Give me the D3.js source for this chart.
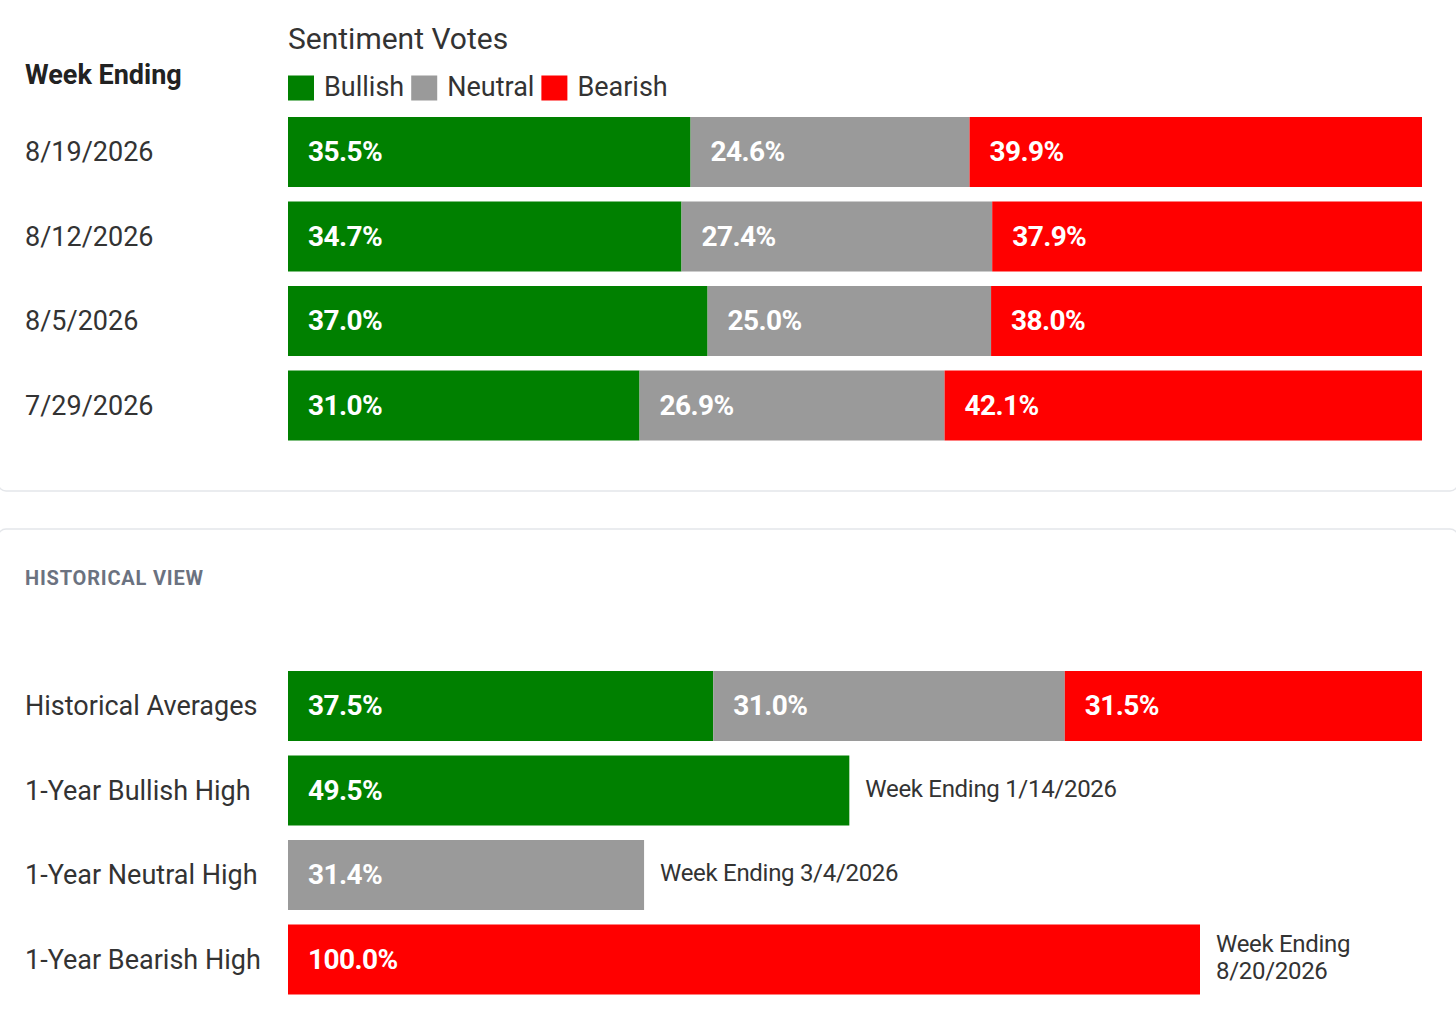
<!DOCTYPE html>
<html>
<head>
<meta charset="utf-8">
<script src="https://cdn.jsdelivr.net/npm/d3@7"></script>
<style>
  html, body { margin: 0; padding: 0; background: #fff; }
  svg { display: block; font-family: Roboto, "Noto Sans", sans-serif; }
</style>
</head>
<body>
<div id="chart"></div>
<script>
const sentiments = ['Bullish', 'Neutral', 'Bearish'];
const sentimentColors = ['#008000', '#9a9a9a', '#ff0000'];

const weeks = ['8/19/2026', '8/12/2026', '8/5/2026', '7/29/2026'];
const bullishVotes = [35.5, 34.7, 37.0, 31.0];
const neutralVotes = [24.6, 27.4, 25.0, 26.9];
const bearishVotes = [39.9, 37.9, 38.0, 42.1];

const historicalAverages = [37.5, 31.0, 31.5];

const highLabels = ['1-Year Bullish High', '1-Year Neutral High', '1-Year Bearish High'];
const highValues = [49.5, 31.4, 100.0];
const highWeeks = ['1/14/2026', '3/4/2026', '8/20/2026'];

const W = 1456, H = 1023;
const barLeft = 288, barRight = 1422, labelLeft = 25;
const noteMinWidth = 206, noteGap = 16;
const textColor = '#333333';

const svg = d3.select('#chart').append('svg')
  .attr('width', W)
  .attr('height', H);

const color = d3.scaleOrdinal().domain(sentiments).range(sentimentColors);
const x = d3.scaleLinear().domain([0, 100]).range([barLeft, barRight]);

// panel borders
svg.append('rect')
  .attr('x', -2).attr('y', -20)
  .attr('width', W + 4).attr('height', 511)
  .attr('rx', 8)
  .attr('fill', 'none')
  .attr('stroke', '#e4e6ea')
  .attr('stroke-width', 1.5);

svg.append('rect')
  .attr('x', -2).attr('y', 529)
  .attr('width', W + 4).attr('height', 600)
  .attr('rx', 8)
  .attr('fill', 'none')
  .attr('stroke', '#e4e6ea')
  .attr('stroke-width', 1.5);

// header
svg.append('text')
  .attr('x', barLeft).attr('y', 41)
  .attr('dominant-baseline', 'middle')
  .style('font-size', '30px')
  .style('fill', textColor)
  .text('Sentiment Votes');

svg.append('text')
  .attr('x', labelLeft).attr('y', 77)
  .attr('dominant-baseline', 'middle')
  .style('font-size', '27px')
  .style('font-weight', 700)
  .style('fill', '#222')
  .text('Week Ending');

// legend
const legend = svg.append('g').attr('transform', 'translate(0,88)');
let lx = barLeft;
sentiments.forEach((s, i) => {
  legend.append('rect')
    .attr('x', lx).attr('y', -12.5)
    .attr('width', 26).attr('height', 25)
    .attr('fill', color(s));
  const t = legend.append('text')
    .attr('x', lx + 36).attr('y', 1)
    .attr('dominant-baseline', 'middle')
    .style('font-size', '27px')
    .style('fill', textColor)
    .text(s);
  lx += 36 + t.node().getComputedTextLength() + 7;
});

function stackRows(g, labels, rows, y) {
  const stacked = rows.map(vals => {
    let acc = 0;
    return vals.map((v, i) => {
      const seg = { key: sentiments[i], x0: acc, x1: acc + v, value: v };
      acc += v;
      return seg;
    });
  });

  const row = g.selectAll('.row')
    .data(labels.map((l, i) => ({ label: l, segs: stacked[i] })))
    .enter().append('g')
    .attr('class', 'row')
    .attr('transform', d => `translate(0,${y(d.label)})`);

  row.append('text')
    .attr('x', labelLeft)
    .attr('y', y.bandwidth() / 2 + 2)
    .attr('dominant-baseline', 'middle')
    .style('font-size', '27px')
    .style('fill', textColor)
    .text(d => d.label);

  const seg = row.selectAll('.seg')
    .data(d => d.segs)
    .enter().append('g')
    .attr('class', 'seg');

  seg.append('rect')
    .attr('x', d => x(d.x0))
    .attr('width', d => x(d.x1) - x(d.x0))
    .attr('height', y.bandwidth())
    .attr('fill', d => color(d.key));

  seg.append('text')
    .attr('x', d => x(d.x0) + 20)
    .attr('y', y.bandwidth() / 2 + 2)
    .attr('dominant-baseline', 'middle')
    .style('font-size', '28px')
    .style('font-weight', 700)
    .style('fill', '#fff')
    .style('letter-spacing', '-0.6px')
    .text(d => d.value.toFixed(1) + '%');
}

// weekly votes
const yTop = d3.scaleBand()
  .domain(weeks)
  .range([109.75, 447.75])
  .paddingInner(14.5 / 84.5)
  .paddingOuter(7.25 / 84.5);

stackRows(svg.append('g'), weeks,
  weeks.map((w, i) => [bullishVotes[i], neutralVotes[i], bearishVotes[i]]), yTop);

// historical view
svg.append('text')
  .attr('x', labelLeft).attr('y', 580)
  .attr('dominant-baseline', 'middle')
  .style('font-size', '20px')
  .style('font-weight', 700)
  .style('letter-spacing', '0.8px')
  .style('fill', '#6b7280')
  .text('HISTORICAL VIEW');

const histRows = ['Historical Averages'].concat(highLabels);
const yBottom = d3.scaleBand()
  .domain(histRows)
  .range([663.75, 1001.75])
  .paddingInner(14.5 / 84.5)
  .paddingOuter(7.25 / 84.5);

stackRows(svg.append('g'), ['Historical Averages'], [historicalAverages], yBottom);

const maxBarEnd = barRight - noteMinWidth - noteGap;
const highRow = svg.append('g').selectAll('.high')
  .data(highLabels.map((l, i) => ({ label: l, key: sentiments[i], value: highValues[i], week: highWeeks[i] })))
  .enter().append('g')
  .attr('class', 'high')
  .attr('transform', d => `translate(0,${yBottom(d.label)})`);

highRow.append('text')
  .attr('x', labelLeft)
  .attr('y', yBottom.bandwidth() / 2 + 2)
  .attr('dominant-baseline', 'middle')
  .style('font-size', '27px')
  .style('fill', textColor)
  .text(d => d.label);

highRow.append('rect')
  .attr('x', x(0))
  .attr('width', d => Math.min(x(d.value), maxBarEnd) - x(0))
  .attr('height', yBottom.bandwidth())
  .attr('fill', d => color(d.key));

highRow.append('text')
  .attr('x', x(0) + 20)
  .attr('y', yBottom.bandwidth() / 2 + 2)
  .attr('dominant-baseline', 'middle')
  .style('font-size', '28px')
  .style('font-weight', 700)
  .style('fill', '#fff')
  .style('letter-spacing', '-0.6px')
  .text(d => d.value.toFixed(1) + '%');

highRow.each(function (d) {
  const g = d3.select(this);
  const nx = Math.min(x(d.value), maxBarEnd) + noteGap;
  const note = g.append('text')
    .attr('x', nx)
    .attr('y', yBottom.bandwidth() / 2)
    .attr('dominant-baseline', 'middle')
    .style('font-size', '24px')
    .style('letter-spacing', '-0.3px')
    .style('fill', textColor)
    .text(`Week Ending ${d.week}`);
  if (nx + note.node().getComputedTextLength() > barRight) {
    note.text(null);
    note.append('tspan').attr('x', nx).attr('dy', '-0.58em').text('Week Ending');
    note.append('tspan').attr('x', nx).attr('dy', '1.16em').text(d.week);
  }
});
</script>
</body>
</html>
